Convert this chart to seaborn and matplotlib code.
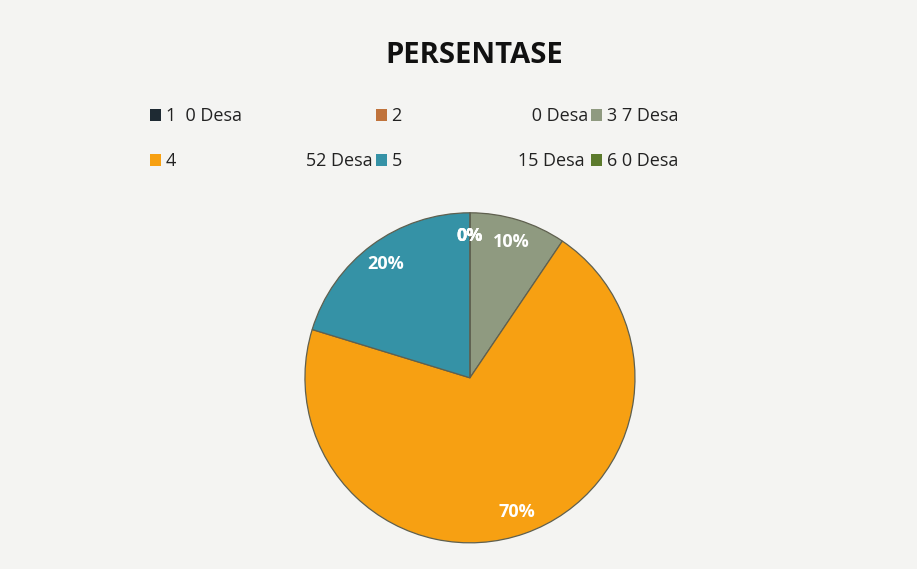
import matplotlib

matplotlib.use("Agg")
import matplotlib.pyplot as plt
import seaborn as sns
from matplotlib.patches import Patch

sns.set_theme(style="white")
plt.rcParams["font.family"] = ["Open Sans", "DejaVu Sans"]

# data
categories = ["1", "2", "3", "4", "5", "6"]
desa_counts = [0, 0, 7, 52, 15, 0]
pct_labels = ["0%", "0%", "10%", "70%", "20%", "0%"]  # as printed on the chart
legend_labels = [
    "1  0 Desa",
    "2                            0 Desa",
    "3 7 Desa",
    "4                            52 Desa",
    "5                         15 Desa",
    "6 0 Desa",
]
colors = ["#1e2a33", "#c0733c", "#8f9a80", "#f7a012", "#3592a6", "#5b7a2c"]

bg = "#f4f4f2"
fig = plt.figure(figsize=(9.17, 5.69), dpi=100, facecolor=bg)
ax = fig.add_axes([0.3325, 0.046, 0.36, 0.58])
ax.set_facecolor(bg)

wedges, texts, autotexts = ax.pie(
    desa_counts,
    colors=colors,
    startangle=90,
    counterclock=False,
    autopct="%1.0f%%",
    pctdistance=0.86,
    wedgeprops={"linewidth": 0.9, "edgecolor": "#5f604f"},
    textprops={"color": "white", "fontsize": 13, "fontweight": "bold"},
)
for t, lab in zip(autotexts, pct_labels):
    t.set_text(lab)
ax.set_xlim(-1, 1)
ax.set_ylim(-1, 1)
ax.set_aspect("equal")

fig.text(0.517, 0.903, "PERSENTASE", ha="center", va="center",
         fontsize=21, fontweight="bold", color="#111111")

handles = [Patch(facecolor=c, edgecolor="none") for c in colors]
order = [0, 3, 1, 4, 2, 5]  # row-major look with ncol=3
fig.legend(
    [handles[i] for i in order],
    [legend_labels[i] for i in order],
    ncol=3,
    loc="upper left",
    bbox_to_anchor=(0.146, 0.84),
    frameon=False,
    fontsize=13,
    handlelength=0.6,
    handleheight=0.6,
    handletextpad=0.3,
    columnspacing=0.15,
    labelspacing=1.5,
    labelcolor="#222222",
)

fig.savefig("out.png", dpi=100, facecolor=bg)
